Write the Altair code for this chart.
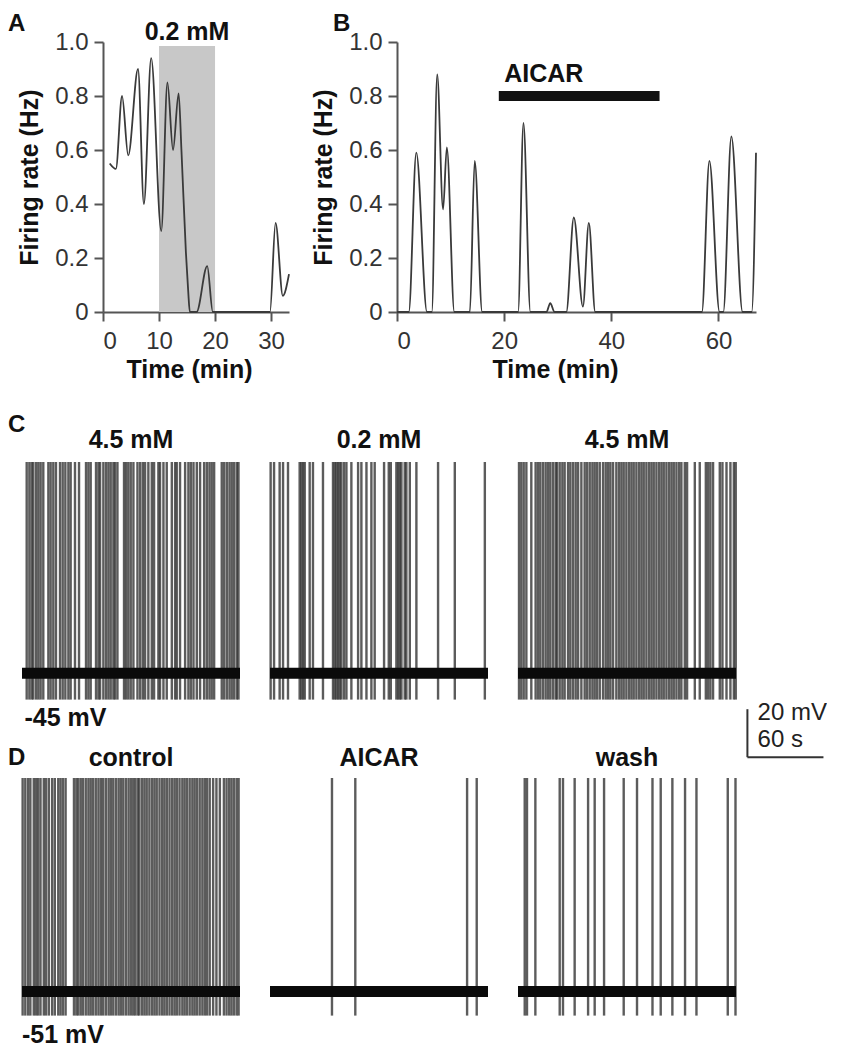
import altair as alt
import pandas as pd

FONT = "Liberation Sans"

# ---------------- data ----------------
# Panel A: firing rate (Hz) vs time (min)
a_time = [1.2, 2.3, 3.4, 4.5, 6.25, 7.3, 8.6, 10.4, 11.5, 12.5, 13.5, 14.0, 14.8, 15.2, 15.5,
          16.7, 18.6, 19.6, 25.0, 29.8, 30.8, 32.1, 33.2]
a_rate = [0.55, 0.53, 0.80, 0.58, 0.90, 0.40, 0.94, 0.30, 0.85, 0.60, 0.81, 0.60, 0.22, 0.08, 0.0,
          0.0, 0.17, 0.0, 0.0, 0.0, 0.33, 0.06, 0.14]
a_band = [10, 20]          # 0.2 mM glucose (min)
a_band_top = 0.985
a_label = "0.2 mM"

# Panel B
b_time = [0, 2.2, 3.6, 5.6, 6.5, 7.5, 8.6, 9.3, 10.7, 13.6, 14.5, 15.9, 22.6, 23.6, 24.9,
          27.9, 28.6, 29.4, 31.6, 33.0, 34.7, 35.8, 37.0, 56.9, 58.3, 60.2, 60.9, 62.4, 64.5,
          66.2, 67.0]
b_rate = [0, 0, 0.59, 0, 0, 0.88, 0.38, 0.61, 0, 0, 0.56, 0, 0, 0.70, 0,
          0, 0.033, 0, 0, 0.35, 0.02, 0.33, 0, 0, 0.56, 0, 0, 0.65, 0,
          0, 0.59]
b_aicar = [19, 49]         # AICAR application (min)
b_aicar_level = 0.8
b_label = "AICAR"

rate_ticks = [0, 0.2, 0.4, 0.6, 0.8, 1.0]
a_time_ticks = [0, 10, 20, 30]
b_time_ticks = [0, 20, 40, 60]

# Membrane-potential traces (spike times in s)
trace_duration = 172
c_titles = ["4.5 mM", "0.2 mM", "4.5 mM"]
c_baseline = -45
c_peak = 43
c_trough = -56
c_spikes = [
    [3.7, 5.8, 7.6, 8.9, 11.1, 12.9, 14.7, 16.8, 20.8, 22.6, 24.7, 26.8, 30.0, 32.1, 34.2, 36.6,
     38.4, 41.8, 45.0, 50.5, 52.4, 54.2, 58.4, 60.3, 61.6, 64.2, 66.3, 68.2, 70.0, 72.1, 73.4,
     75.3, 80.5, 82.1, 83.9, 85.8, 87.9, 91.1, 93.2, 95.3, 97.1, 99.7, 102.4, 104.2, 107.6,
     108.9, 111.6, 114.2, 118.2, 120.8, 122.1, 124.7, 128.7, 131.3, 133.2, 135.3, 137.9, 140.5,
     143.7, 145.8, 147.9, 149.7, 151.6, 157.6, 159.5, 161.6, 163.7, 165.5, 167.4, 169.5, 170.8],
    [0.5, 3.2, 7.6, 10.3, 14.2, 23.4, 24.7, 26.1, 27.4, 31.3, 33.9, 41.8, 49.7, 51.1, 52.4, 53.7,
     55.0, 56.3, 58.4, 60.3, 64.2, 69.5, 72.1, 76.1, 80.0, 82.6, 90.0, 93.7, 95.3, 99.7, 101.1,
     102.4, 103.7, 106.3, 107.6, 110.3, 115.5, 132.6, 145.8, 169.5],
    [0.8, 2.6, 4.5, 6.6, 10.5, 13.9, 15.8, 17.6, 19.7, 21.8, 23.7, 25.5, 27.6, 29.7, 30.8, 32.9,
     35.0, 36.8, 39.5, 41.3, 43.4, 45.5, 47.4, 50.0, 52.6, 54.5, 56.6, 58.7, 60.5, 62.4, 64.5,
     67.1, 69.2, 71.1, 72.9, 75.0, 77.6, 79.7, 81.6, 83.4, 85.5, 87.6, 89.5, 91.3, 93.4, 95.5,
     97.4, 99.2, 101.3, 103.4, 105.3, 107.1, 109.2, 111.3, 113.2, 115.0, 117.1, 119.2, 121.1,
     122.9, 125.0, 127.1, 128.9, 131.6, 133.4, 139.5, 143.4, 148.2, 150.0, 151.8, 153.9, 159.2,
     161.3, 164.5, 167.6, 170.3, 171.8],
]
d_titles = ["control", "AICAR", "wash"]
d_baseline = -51
d_peak = 38
d_trough = -61
d_spikes = [
    [0.5, 2.6, 4.8, 6.6, 9.3, 11.1, 12.7, 14.6, 17.2, 19.0, 21.2, 23.8, 25.9, 28.6, 30.4, 32.3,
     34.4, 41.0, 42.9, 44.4, 46.3, 48.1, 50.3, 52.4, 54.2, 56.1, 58.2, 60.3, 62.2, 64.0, 66.1,
     68.3, 70.1, 72.0, 74.1, 76.2, 78.0, 79.9, 82.0, 84.1, 86.0, 87.8, 89.4, 91.3, 92.6, 94.7,
     96.6, 98.4, 100.5, 102.6, 104.5, 106.3, 108.5, 110.6, 112.4, 114.3, 116.4, 118.5, 120.4,
     122.2, 124.3, 126.5, 128.3, 130.2, 132.3, 134.4, 136.2, 138.1, 140.2, 142.3, 144.2, 146.0,
     148.1, 150.8, 153.4, 156.1, 159.3, 161.4, 163.5, 165.3, 167.2, 169.3, 170.9],
    [48.9, 67.3, 155.5, 163.1],
    [5.3, 7.1, 13.7, 32.9, 35.5, 44.7, 55.3, 60.5, 67.9, 83.4, 93.9, 106.1, 112.6, 121.8, 131.8,
     140.8, 165.5, 171.6],
]
c_potential_label = "-45 mV"
d_potential_label = "-51 mV"
scalebar_s = 60
scalebar_mV = 20
scalebar_origin = [181, -80]   # (s, mV) in the last 4.5 mM trace frame

# ---------------- helpers ----------------
ONE = pd.DataFrame({"k": [0]})
BIG = 25


def letter(txt, dx, dy):
    return alt.Chart(ONE).mark_text(
        align="left", baseline="alphabetic", fontSize=24, fontWeight="bold", color="#111"
    ).encode(x=alt.value(dx), y=alt.value(dy), text=alt.value(txt))


y_rate = alt.Y(
    "r:Q",
    scale=alt.Scale(domain=[0, 1], nice=False),
    axis=alt.Axis(values=rate_ticks, title="Firing rate (Hz)",
                  labelExpr="datum.value == 0 ? '0' : format(datum.value, '.1f')"),
)

# ---------------- panel A ----------------
xA = alt.X("t:Q", scale=alt.Scale(domain=[0, 33.2], nice=False, zero=False),
           axis=alt.Axis(values=a_time_ticks, title="Time (min)", titleX=86))
bandA = alt.Chart(pd.DataFrame({"t": [a_band[0]], "t2": [a_band[1]], "r": [0], "r2": [a_band_top]})
                  ).mark_rect(color="#c8c8c8").encode(x=xA, x2="t2:Q", y=y_rate, y2="r2:Q")
lineA = alt.Chart(pd.DataFrame({"t": a_time, "r": a_rate})).mark_line(
    color="#3a3a3a", strokeWidth=1.8, interpolate="monotone").encode(x=xA, y=y_rate)
labA = alt.Chart(pd.DataFrame({"t": [sum(a_band) / 2], "r": [1.0], "s": [a_label]})).mark_text(
    fontSize=BIG, fontWeight="bold", baseline="alphabetic", dy=-2, color="#111"
).encode(x=xA, y=y_rate, text="s:N")
panelA = alt.layer(bandA, lineA, labA, letter("A", -95, -11)).properties(width=186, height=270)

# ---------------- panel B ----------------
xB = alt.X("t:Q", scale=alt.Scale(domain=[0, 67], nice=False, zero=False),
           axis=alt.Axis(values=b_time_ticks, title="Time (min)", titleX=158))
lineB = alt.Chart(pd.DataFrame({"t": b_time, "r": b_rate})).mark_line(
    color="#3a3a3a", strokeWidth=1.8, interpolate="monotone").encode(x=xB, y=y_rate)
barB = alt.Chart(pd.DataFrame({"t": [b_aicar[0]], "t2": [b_aicar[1]], "r": [b_aicar_level]})).mark_rule(
    strokeWidth=10, color="#111", strokeCap="butt").encode(x=xB, x2="t2:Q", y=y_rate)
labB = alt.Chart(pd.DataFrame({"t": [b_aicar[0] + 1], "r": [b_aicar_level], "s": [b_label]})).mark_text(
    fontSize=BIG, fontWeight="bold", align="left", baseline="alphabetic", dy=-14, color="#111"
).encode(x=xB, y=y_rate, text="s:N")
panelB = alt.layer(lineB, barB, labB, letter("B", -64, -11)).properties(width=359, height=270)


# ---------------- trace panels ----------------
def trace_panel(spikes, base, peak, trough, title, title_dy, extra=()):
    xs = alt.X("t:Q", scale=alt.Scale(domain=[0, trace_duration], nice=False, zero=False), axis=None)
    ys = alt.Y("v:Q", scale=alt.Scale(domain=[peak - 100, peak], nice=False, zero=False), axis=None)
    sp = alt.Chart(pd.DataFrame({"t": spikes, "v": [trough] * len(spikes), "v2": [peak] * len(spikes)})
                   ).mark_rule(strokeWidth=2.4, color="#2e2e2e", opacity=0.78).encode(x=xs, y=ys, y2="v2:Q")
    bl = alt.Chart(pd.DataFrame({"t": [0], "t2": [trace_duration], "v": [base]})).mark_rule(
        strokeWidth=11, color="#0a0a0a").encode(x=xs, x2="t2:Q", y=ys)
    hd = alt.Chart(pd.DataFrame({"t": [trace_duration / 2], "v": [peak], "s": [title]})).mark_text(
        fontSize=BIG, fontWeight="bold", baseline="alphabetic", dy=title_dy, color="#111"
    ).encode(x=xs, y=ys, text="s:N")
    layers = [sp, bl, hd]
    for e in extra:
        layers.append(e(xs, ys))
    return alt.layer(*layers).properties(width=218, height=240)


def pot_label(txt, t, v):
    def f(xs, ys):
        return alt.Chart(pd.DataFrame({"t": [t], "v": [v], "s": [txt]})).mark_text(
            fontSize=BIG, fontWeight="bold", align="left", baseline="alphabetic", color="#111"
        ).encode(x=xs, y=ys, text="s:N")
    return f


def letter_layer(txt, dx, dy):
    def f(xs, ys):
        return letter(txt, dx, dy)
    return f


def scalebar(xs, ys):
    t0, v0 = scalebar_origin
    bars = alt.Chart(pd.DataFrame({
        "t": [t0, t0], "t2": [t0, t0 + scalebar_s],
        "v": [v0, v0], "v2": [v0 + scalebar_mV, v0]})).mark_rule(
        strokeWidth=2, color="#333").encode(x=xs, x2="t2:Q", y=ys, y2="v2:Q")
    txt = alt.Chart(pd.DataFrame({
        "t": [t0 + 8, t0 + 8],
        "v": [v0 + 15.5, v0 + 4.3],
        "s": [f"{scalebar_mV} mV", f"{scalebar_s} s"]})).mark_text(
        fontSize=24, align="left", baseline="alphabetic", color="#222").encode(x=xs, y=ys, text="s:N")
    return alt.layer(bars, txt)


C1 = trace_panel(c_spikes[0], c_baseline, c_peak, c_trough, c_titles[0], -14,
                 [pot_label(c_potential_label, 2, -67), letter_layer("C", -14, -30)])
C2 = trace_panel(c_spikes[1], c_baseline, c_peak, c_trough, c_titles[1], -14)
C3 = trace_panel(c_spikes[2], c_baseline, c_peak, c_trough, c_titles[2], -14, [scalebar])
D1 = trace_panel(d_spikes[0], d_baseline, d_peak, d_trough, d_titles[0], -12,
                 [pot_label(d_potential_label, 0, -72.5), letter_layer("D", -14, -13)])
D2 = trace_panel(d_spikes[1], d_baseline, d_peak, d_trough, d_titles[1], -12)
D3 = trace_panel(d_spikes[2], d_baseline, d_peak, d_trough, d_titles[2], -12)

# invisible spacer; its transparent rule marks the top edge of the figure
spacer = alt.Chart(ONE).mark_rule(opacity=0, strokeWidth=1).encode(
    x=alt.value(0), x2=alt.value(1), y=alt.value(-33.5)).properties(width=1, height=1)

# rows are concat groups; with flush bounds their origins are spaced by the given offsets
row1 = alt.hconcat(spacer, alt.hconcat(panelA, panelB, spacing=108, bounds="flush"), spacing=80, bounds="flush")
row2 = alt.hconcat(C1, C2, C3, spacing=30, bounds="flush")
row3 = alt.hconcat(D1, D2, D3, spacing=30, bounds="flush")
lower = alt.vconcat(row2, row3, spacing=316, bounds="flush")

chart = alt.vconcat(row1, lower, spacing=420, bounds="flush").properties(
    padding=0
).configure(font=FONT).configure_view(stroke=None).configure_axis(
    grid=False,
    labelFontSize=24, labelColor="#333", labelPadding=6, labelFont=FONT,
    titleFontSize=BIG, titleFontWeight="bold", titleColor="#111", titleFont=FONT,
    domainColor="#555", domainWidth=2, tickColor="#555", tickWidth=2, tickSize=9,
).configure_axisX(labelPadding=8, titlePadding=4).configure_axisY(titlePadding=12)

chart.save("out.html", embed_options={"renderer": "svg", "actions": False})
